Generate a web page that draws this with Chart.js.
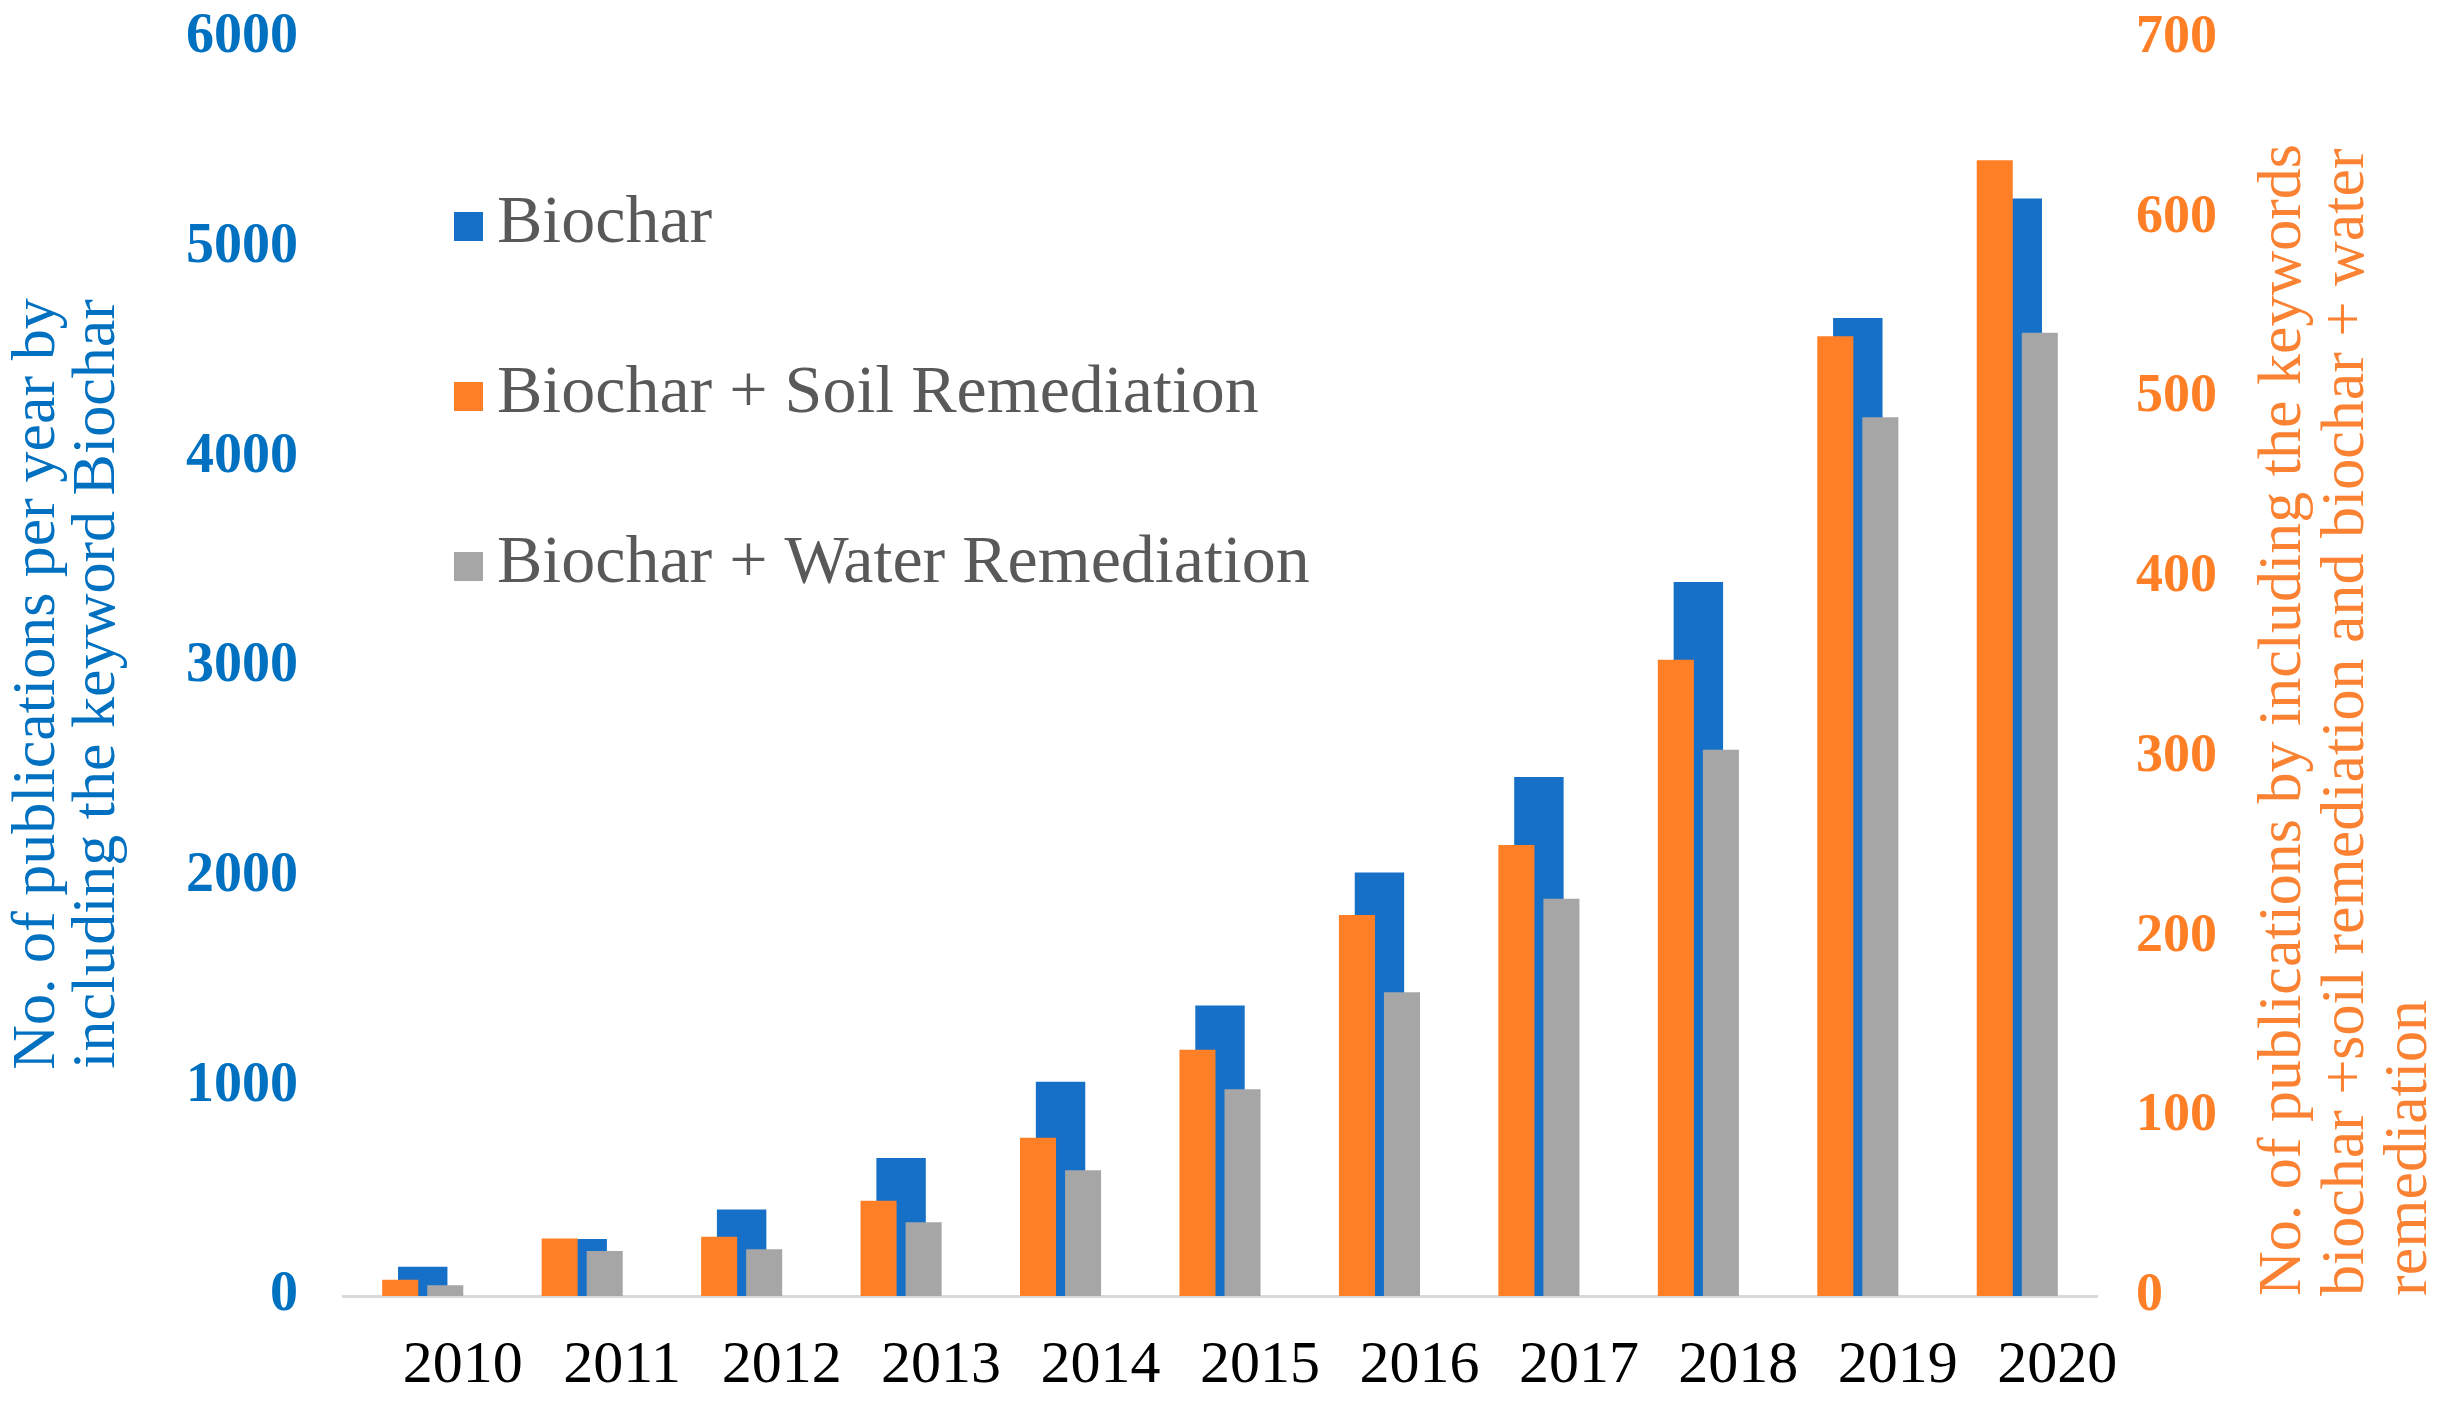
<!DOCTYPE html>
<html lang="en">
<head>
    <meta charset="UTF-8">
    <title>Biochar publications per year</title>
    <script src="https://cdn.jsdelivr.net/npm/chart.js"></script>
    <style>
        html, body { margin: 0; padding: 0; background: #ffffff; }
        #wrap { width: 2442px; height: 1407px; }
    </style>
</head>
<body>
<div id="wrap"><canvas id="pubChart" width="2442" height="1407"></canvas></div>

<script>
    // data
    const years = ['2010', '2011', '2012', '2013', '2014', '2015', '2016', '2017', '2018', '2019', '2020'];
    const biochar = [140, 272, 412, 658, 1022, 1385, 2020, 2475, 3405, 4665, 5235];
    const soilRemediation = [9, 32, 33, 53, 88, 137, 212, 251, 354, 534, 632];
    const waterRemediation = [6, 25, 26, 41, 70, 115, 169, 221, 304, 489, 536];

    const leftTicks = [0, 1000, 2000, 3000, 4000, 5000, 6000];
    const rightTicks = [0, 100, 200, 300, 400, 500, 600, 700];

    const leftTitle = ['No. of publications per year by', 'including the keyword Biochar'];
    const rightTitle = ['No. of publications by including the keywords',
                        'biochar +soil remediation and biochar + water',
                        'remediation'];

    const serif = '"Liberation Serif", "Times New Roman", Times, serif';

    // axis titles (the right one reads bottom-to-top, which the built-in title can't do)
    const axisTitles = {
        id: 'axisTitles',
        afterDraw(chart) {
            const ctx = chart.ctx;
            ctx.save();
            ctx.textBaseline = 'middle';
            ctx.font = '62px ' + serif;
            ctx.fillStyle = '#0070C0';
            ctx.translate(38, 684);
            ctx.rotate(-Math.PI / 2);
            ctx.textAlign = 'center';
            leftTitle.forEach((t, i) => ctx.fillText(t, 0, i * 60));
            ctx.restore();

            ctx.save();
            ctx.textBaseline = 'middle';
            ctx.font = '62px ' + serif;
            ctx.fillStyle = '#FA8232';
            ctx.translate(2284, chart.chartArea.bottom);
            ctx.rotate(-Math.PI / 2);
            ctx.textAlign = 'left';
            rightTitle.forEach((t, i) => ctx.fillText(t, 0, i * 63));
            ctx.restore();
        }
    };

    // vertical legend sitting inside the plot
    const sideLegend = {
        id: 'sideLegend',
        afterDraw(chart) {
            const ctx = chart.ctx;
            ctx.save();
            ctx.font = '68px ' + serif;
            ctx.textBaseline = 'middle';
            ctx.textAlign = 'left';
            chart.data.datasets.forEach((ds, i) => {
                const y = 226 + i * 170;
                ctx.fillStyle = ds.backgroundColor;
                ctx.fillRect(454, y - 14, 29, 29);
                ctx.fillStyle = '#595959';
                ctx.fillText(ds.label, 497, y - 2);
            });
            ctx.restore();
        }
    };

    const plain = v => String(v);

    // fixed axis widths; drop the label padding Chart.js adds above/below
    const fixWidth = w => s => {
        s.width = w;
        s.paddingTop = 0;
        s.paddingBottom = 0;
    };

    const ctx = document.getElementById('pubChart').getContext('2d');
    const pubChart = new Chart(ctx, {
        type: 'bar',
        data: {
            labels: years,
            datasets: [{
                label: 'Biochar',
                data: biochar,
                backgroundColor: '#1670C8',
                yAxisID: 'y',
                order: 2,
                grouped: false,
                categoryPercentage: 1,
                barPercentage: 0.31
            }, {
                label: 'Biochar + Soil Remediation',
                data: soilRemediation,
                backgroundColor: '#FF7F27',
                yAxisID: 'y2',
                order: 1,
                categoryPercentage: 0.565,
                barPercentage: 0.8
            }, {
                label: 'Biochar + Water Remediation',
                data: waterRemediation,
                backgroundColor: '#A6A6A6',
                yAxisID: 'y2',
                order: 1,
                categoryPercentage: 0.565,
                barPercentage: 0.8
            }]
        },
        options: {
            responsive: false,
            animation: false,
            layout: { padding: { top: 38, left: 0, right: 0, bottom: 0 } },
            plugins: {
                legend: { display: false },
                tooltip: { enabled: false }
            },
            scales: {
                x: {
                    type: 'category',
                    position: 'bottom',
                    offset: true,
                    grid: { display: false, drawTicks: false },
                    border: { display: true, color: '#D9D9D9', width: 3 },
                    ticks: {
                        color: '#000000',
                        font: { family: serif, size: 60, lineHeight: 1.2 },
                        padding: 34,
                        labelOffset: 40,
                        maxRotation: 0,
                        autoSkip: false
                    },
                    afterFit: s => { s.height = 111; }
                },
                y: {
                    position: 'left',
                    min: 0,
                    max: 6000,
                    grid: { display: false, drawTicks: false },
                    border: { display: false },
                    afterBuildTicks: s => { s.ticks = leftTicks.map(v => ({ value: v })); },
                    ticks: {
                        color: '#0070C0',
                        font: { family: serif, size: 56, weight: 'bold', lineHeight: 1.2 },
                        padding: 45,
                        callback: plain
                    },
                    afterFit: fixWidth(343)
                },
                y2: {
                    position: 'right',
                    min: 0,
                    max: 700,
                    grid: { display: false, drawTicks: false },
                    border: { display: false },
                    afterBuildTicks: s => { s.ticks = rightTicks.map(v => ({ value: v })); },
                    ticks: {
                        color: '#FF7F27',
                        font: { family: serif, size: 54, weight: 'bold', lineHeight: 1.2 },
                        padding: 39,
                        callback: plain
                    },
                    afterFit: fixWidth(345)
                }
            }
        },
        plugins: [axisTitles, sideLegend]
    });
</script>
</body>
</html>
